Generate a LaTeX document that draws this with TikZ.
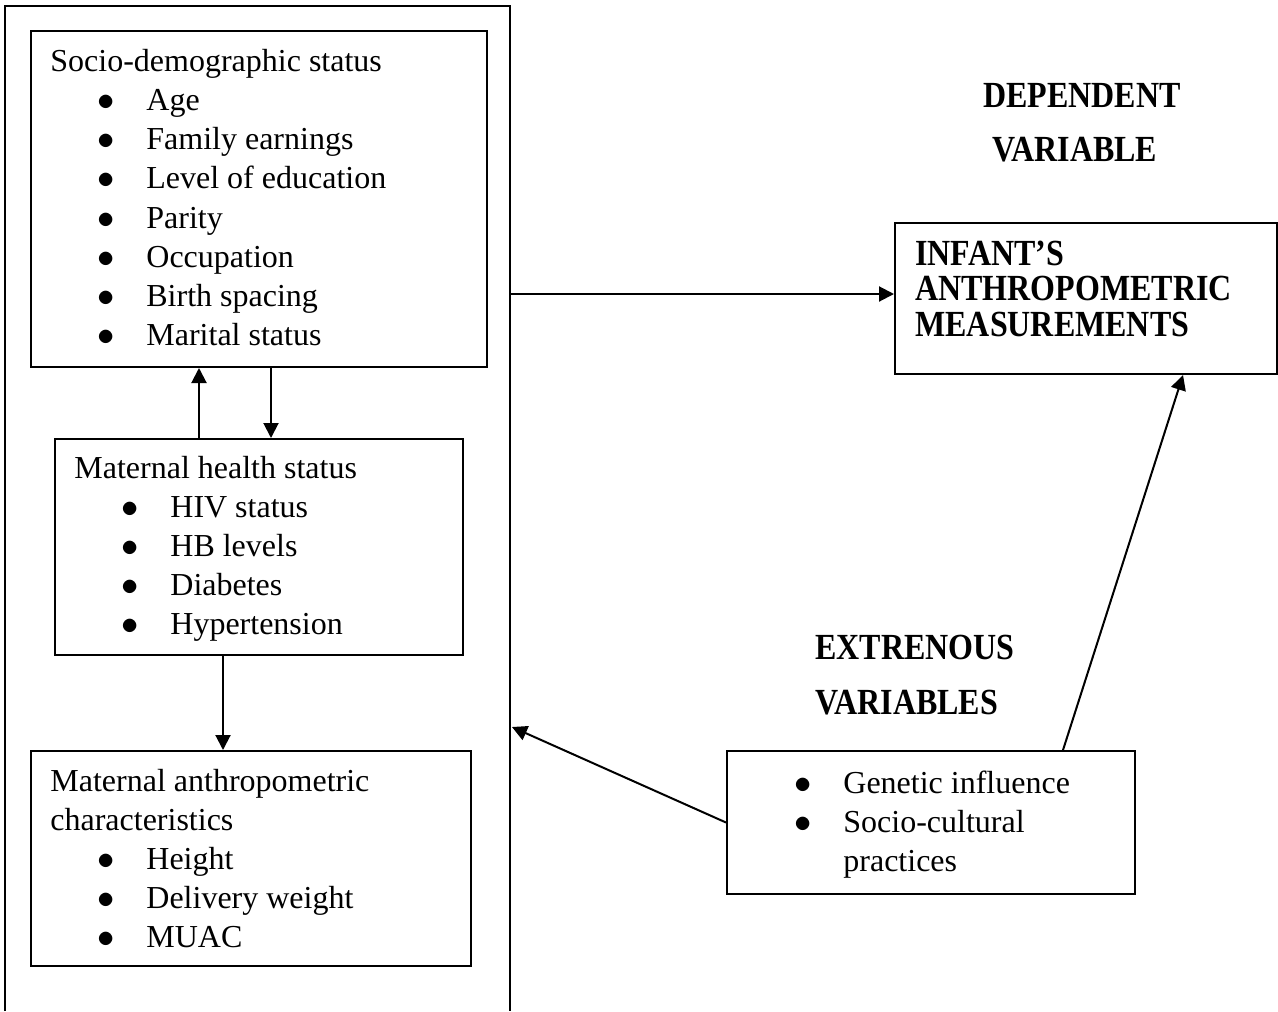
\documentclass[tikz,border=0pt]{standalone}
\usepackage{fontspec}
\setmainfont{Liberation Serif}
\usetikzlibrary{arrows.meta}
\tikzset{>={Triangle[length=7.5pt,width=7.5pt]}}
\newcommand{\bigdot}{\makebox[23pt][l]{\hspace*{-1.5pt}$\bullet$}}
\newcommand{\bitem}[1]{\hspace*{25pt}\bigdot#1}
\newcommand{\tallbf}[1]{\scalebox{1}[1.15]{#1}}

\begin{document}
\begin{tikzpicture}[x=0.5pt,y=-0.5pt]
	\tikzstyle{box} = [draw, line width=1pt, inner sep=0pt, anchor=north west]
	\tikzstyle{txt} = [inner sep=0pt, anchor=base west, font=\fontsize{16}{19.5}\selectfont]
	\tikzstyle{lbl} = [inner sep=0pt, anchor=base west, font=\fontsize{16}{19.5}\selectfont\bfseries]
	\tikzstyle{link} = [->, line width=1pt]

	\useasboundingbox (0,0) rectangle (1278,1011);

%----------Independent variables frame------------------------
	\draw[line width=1pt] (5,1011) -- (5,6) -- (510,6) -- (510,1011);
	\coordinate (frameA) at (510,294);
	\coordinate (frameB) at (512,727);

	\node[box, minimum width=228pt, minimum height=168pt] (socio) at (30,30) {};
	\node[txt] (sociotxt) at (50,72) {\begin{tabular}[t]{@{}l@{}}
		Socio-demographic status\\
		\bitem{Age}\\
		\bitem{Family earnings}\\
		\bitem{Level of education}\\
		\bitem{Parity}\\
		\bitem{Occupation}\\
		\bitem{Birth spacing}\\
		\bitem{Marital status}
	\end{tabular}};

	\node[box, minimum width=204pt, minimum height=108pt] (health) at (54,438) {};
	\node[txt] (healthtxt) at (74,478) {\begin{tabular}[t]{@{}l@{}}
		Maternal health status\\
		\bitem{HIV status}\\
		\bitem{HB levels}\\
		\bitem{Diabetes}\\
		\bitem{Hypertension}
	\end{tabular}};

	\node[box, minimum width=220pt, minimum height=107.5pt] (anthro) at (30,750) {};
	\node[txt] (anthrotxt) at (50,791) {\begin{tabular}[t]{@{}l@{}}
		Maternal anthropometric\\
		characteristics\\
		\bitem{Height}\\
		\bitem{Delivery weight}\\
		\bitem{MUAC}
	\end{tabular}};

	\draw[link] ([xshift=-30pt]health.north) -- ([xshift=-30pt]socio.south);
	\draw[link] ([xshift=6pt]socio.south) -- ([xshift=6pt]health.north);
	\draw[link] ([xshift=-18pt]health.south) coordinate (hs) -- (hs |- anthro.north);

%----------Dependent variable---------------------------------
	\node[lbl] (dep1) at (983,107) {\tallbf{DEPENDENT}};
	\node[lbl] (dep2) at (992,162) {\tallbf{VARIABLE}};

	\node[box, minimum width=191pt, minimum height=75.5pt] (infant) at (894,222) {};
	\node[lbl, font=\fontsize{16}{17.75}\selectfont\bfseries] (infanttxt) at (915,265) {\begin{tabular}[t]{@{}l@{}}
		\tallbf{INFANT'S}\\
		\tallbf{ANTHROPOMETRIC}\\
		\tallbf{MEASUREMENTS}
	\end{tabular}};

	\draw[link] (frameA) -- (frameA -| infant.west);

%----------Extraneous variables-------------------------------
	\node[lbl] (ext1) at (815,659) {\tallbf{EXTRENOUS}};
	\node[lbl] (ext2) at (815,714) {\tallbf{VARIABLES}};

	\node[box, minimum width=204pt, minimum height=71.5pt] (ext) at (726,750) {};
	\node[txt] (exttxt) at (797,793) {\begin{tabular}[t]{@{}l@{}}
		\bigdot Genetic influence\\
		\bigdot Socio-cultural\\
		\hspace*{23pt}practices
	\end{tabular}};

	\draw[link] (ext.west) -- (frameB);
	\draw[link] ([xshift=66pt]ext.north) -- ([xshift=48.5pt]infant.south);

\end{tikzpicture}
\end{document}
